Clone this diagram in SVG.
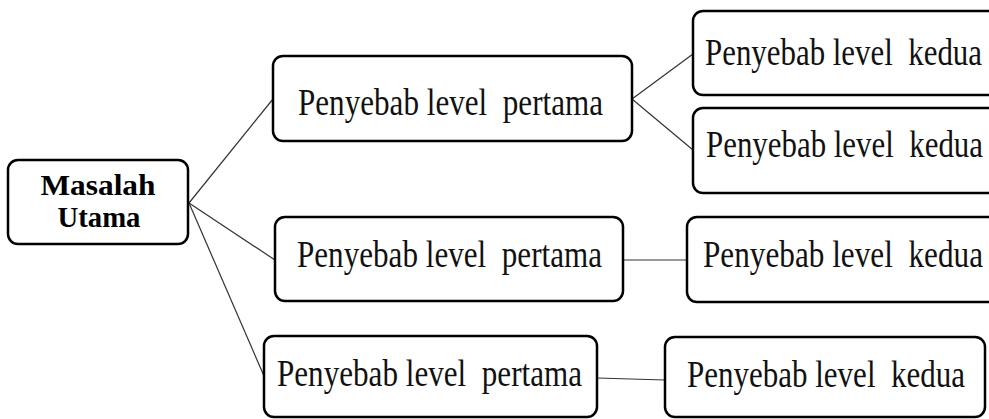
<svg xmlns="http://www.w3.org/2000/svg" width="989" height="419" viewBox="0 0 989 419">
<style>
.box{fill:#fff;stroke:#000;stroke-width:2.5}
.lbl{font-family:"Liberation Serif","Times New Roman",serif;font-size:37px;fill:#111;white-space:pre}
.main{font-family:"Liberation Serif","Times New Roman",serif;font-size:30px;font-weight:bold;fill:#000;text-anchor:middle}
.conn line{stroke:#333;stroke-width:1.2}
</style>
<rect width="989" height="419" fill="#fff"/>
<g class="conn" id="connectors">
<line x1="189" y1="203" x2="273" y2="99"/>
<line x1="189" y1="203" x2="275" y2="260"/>
<line x1="189" y1="203" x2="264" y2="376"/>
<line x1="632" y1="99" x2="693" y2="54"/>
<line x1="632" y1="99" x2="693" y2="150"/>
<line x1="623" y1="260" x2="687" y2="260"/>
<line x1="597" y1="378" x2="665" y2="380"/>
</g>
<g id="masalah">
<rect class="box" x="8" y="160" width="180" height="84" rx="10"/>
<text class="main" x="98" y="195" textLength="115" lengthAdjust="spacingAndGlyphs">Masalah</text>
<text class="main" x="99" y="227" textLength="83" lengthAdjust="spacingAndGlyphs">Utama</text>
</g>
<g id="p1">
<rect class="box" x="273" y="56" width="359" height="85" rx="10"/>
<text class="lbl" xml:space="preserve" x="298" y="115" textLength="305" lengthAdjust="spacingAndGlyphs">Penyebab level  pertama</text>
</g>
<g id="p2">
<rect class="box" x="275" y="217" width="348" height="84" rx="10"/>
<text class="lbl" xml:space="preserve" x="297" y="267" textLength="305" lengthAdjust="spacingAndGlyphs">Penyebab level  pertama</text>
</g>
<g id="p3">
<rect class="box" x="264" y="336" width="333" height="81" rx="10"/>
<text class="lbl" xml:space="preserve" x="277" y="386" textLength="305" lengthAdjust="spacingAndGlyphs">Penyebab level  pertama</text>
</g>
<g id="k1a">
<rect class="box" x="693" y="11" width="310" height="84" rx="10"/>
<text class="lbl" xml:space="preserve" x="705" y="65" textLength="277" lengthAdjust="spacingAndGlyphs">Penyebab level  kedua</text>
</g>
<g id="k1b">
<rect class="box" x="693" y="108" width="310" height="85" rx="10"/>
<text class="lbl" xml:space="preserve" x="706" y="157" textLength="277" lengthAdjust="spacingAndGlyphs">Penyebab level  kedua</text>
</g>
<g id="k2">
<rect class="box" x="687" y="217" width="316" height="85" rx="10"/>
<text class="lbl" xml:space="preserve" x="703" y="267" textLength="280" lengthAdjust="spacingAndGlyphs">Penyebab level  kedua</text>
</g>
<g id="k3">
<rect class="box" x="665" y="337" width="320" height="80" rx="10"/>
<text class="lbl" xml:space="preserve" x="687" y="387" textLength="278" lengthAdjust="spacingAndGlyphs">Penyebab level  kedua</text>
</g>
</svg>
